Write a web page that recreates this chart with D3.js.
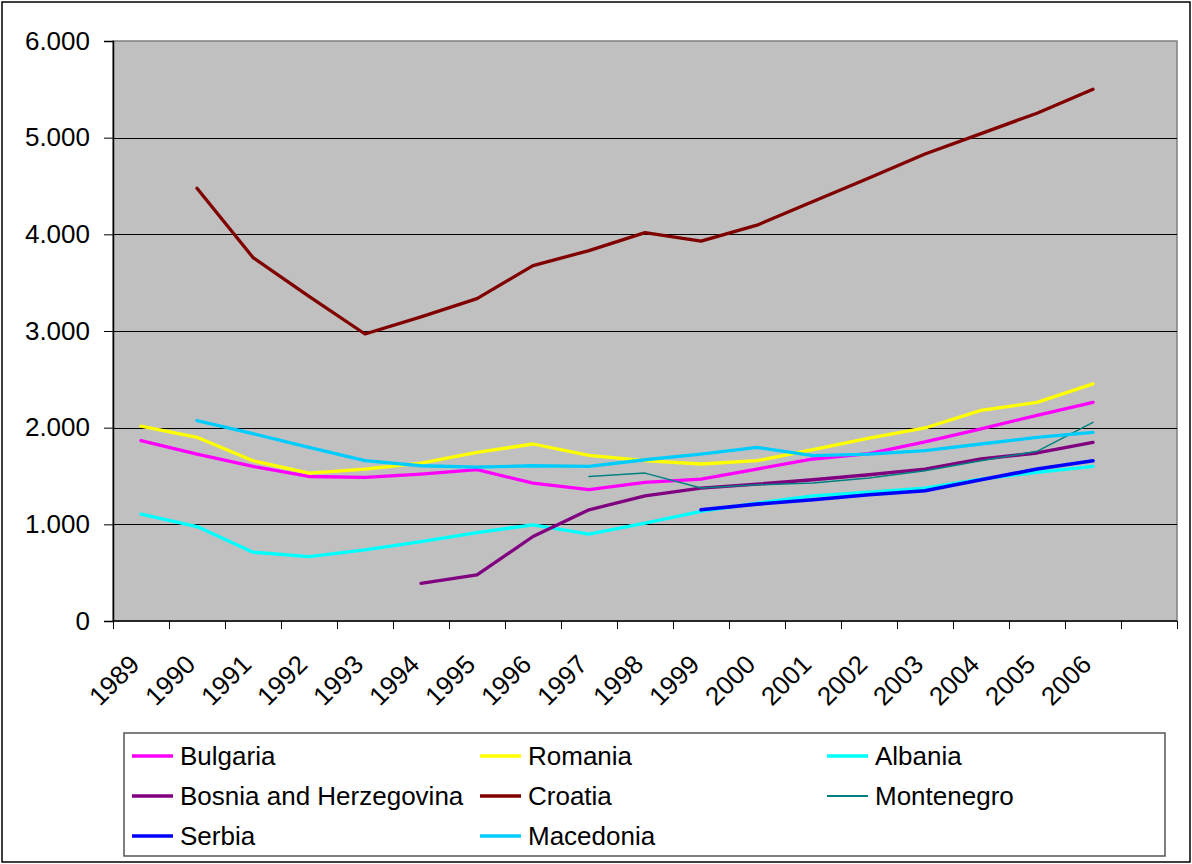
<!DOCTYPE html>
<html>
<head>
<meta charset="utf-8">
<script src="https://cdn.jsdelivr.net/npm/d3@7"></script>
<style>
  html, body { margin: 0; padding: 0; background: #fff; }
  svg { display: block; }
  text { font-family: Arial, "Liberation Sans", sans-serif; fill: #000; }
</style>
</head>
<body>
<svg id="chart" width="1192" height="864"></svg>
<script>
// ---- data ----
const years = ["1989","1990","1991","1992","1993","1994","1995","1996","1997","1998","1999","2000","2001","2002","2003","2004","2005","2006"];
const yTicks = [0, 1000, 2000, 3000, 4000, 5000, 6000];

const bulgaria   = [1865,1727,1599,1495,1485,1520,1565,1427,1358,1433,1468,1572,1676,1731,1852,1987,2128,2262];
const romania    = [2015,1900,1658,1530,1572,1634,1744,1831,1713,1658,1624,1658,1772,1893,1997,2179,2262,2453];
const albania    = [1106,977,712,666,736,822,915,995,898,1012,1133,1220,1295,1333,1375,1468,1537,1599];
const bosnia     = [null,null,null,null,null,390,477,874,1150,1295,1375,1416,1461,1513,1572,1676,1738,1848];
const croatia    = [null,4477,3760,3358,2969,3146,3335,3676,3832,4017,3929,4095,4340,4582,4831,5042,5253,5500];
const montenegro = [null,null,null,null,null,null,null,null,1495,1530,1375,1409,1427,1479,1554,1658,1755,2055];
const serbia     = [null,null,null,null,null,null,null,null,null,null,1150,1209,1254,1306,1347,1461,1572,1658];
const macedonia  = [null,2073,1938,1796,1658,1606,1592,1606,1599,1668,1727,1796,1710,1727,1762,1831,1900,1951];

const seriesNames  = ["Bulgaria","Romania","Albania","Bosnia and Herzegovina","Croatia","Montenegro","Serbia","Macedonia"];
const seriesValues = [bulgaria, romania, albania, bosnia, croatia, montenegro, serbia, macedonia];
const seriesColors = ["#FF00FF","#FFFF00","#00FFFF","#800080","#800000","#008080","#0000FF","#00CCFF"];
const seriesWidths = [3.3,3.3,3.3,3.3,3.3,1.5,3.6,3.3];

// ---- layout ----
const svg = d3.select("#chart");
const plot = { left: 113, right: 1177, top: 41, bottom: 621 };

// one empty trailing category as in the original
const domain = years.concat([""]);
const x = d3.scaleBand().domain(domain).range([plot.left, plot.right]).padding(0);
const y = d3.scaleLinear().domain([0, 6000]).range([plot.bottom, plot.top]);

// outer border
svg.append("rect").attr("x", 2).attr("y", 2).attr("width", 1188).attr("height", 860)
  .attr("fill", "#fff").attr("stroke", "#000").attr("stroke-width", 1.5);

// plot background
svg.append("rect").attr("x", plot.left).attr("y", plot.top)
  .attr("width", plot.right - plot.left).attr("height", plot.bottom - plot.top)
  .attr("fill", "#C0C0C0").attr("stroke", "#808080").attr("stroke-width", 1.5);

// gridlines
svg.append("g").selectAll("line").data(yTicks.filter(d => d > 0 && d < 6000)).join("line")
  .attr("x1", plot.left).attr("x2", plot.right)
  .attr("y1", d => Math.round(y(d)) + 0.5).attr("y2", d => Math.round(y(d)) + 0.5)
  .attr("stroke", "#000").attr("stroke-width", 1);

// y axis
const yAxis = d3.axisLeft(y).tickValues(yTicks).tickSize(9).tickPadding(14)
  .tickFormat(d => d === 0 ? "0" : d3.format(",")(d).replace(/,/g, "."));
const gy = svg.append("g").attr("transform", `translate(${plot.left},0)`).call(yAxis);
gy.select(".domain").attr("stroke", "#000").attr("stroke-width", 1.5);
gy.selectAll(".tick line").attr("stroke", "#000");
gy.selectAll(".tick text").style("font-size", "26px").attr("font-family", "Arial, 'Liberation Sans', sans-serif");

// x axis line
svg.append("line").attr("x1", plot.left).attr("x2", plot.right)
  .attr("y1", plot.bottom).attr("y2", plot.bottom).attr("stroke", "#000").attr("stroke-width", 1.5);

// x ticks at category boundaries
const bounds = domain.map(d => x(d)).concat([plot.right]);
svg.append("g").selectAll("line").data(bounds).join("line")
  .attr("x1", d => Math.round(d) + 0.5).attr("x2", d => Math.round(d) + 0.5)
  .attr("y1", plot.bottom).attr("y2", plot.bottom + 8)
  .attr("stroke", "#000").attr("stroke-width", 1);

// x labels, rotated
svg.append("g").selectAll("text").data(years).join("text")
  .attr("transform", d => `translate(${x(d) + x.bandwidth() / 2},${plot.bottom + 45}) rotate(-45)`)
  .attr("text-anchor", "end")
  .style("font-size", "26px")
  .text(d => d);

// series lines
const line = d3.line()
  .defined(d => d.v !== null)
  .x(d => x(d.year) + x.bandwidth() / 2)
  .y(d => y(d.v));

const gLines = svg.append("g");
seriesValues.forEach((vals, i) => {
  const pts = years.map((yr, j) => ({ year: yr, v: vals[j] }));
  gLines.append("path")
    .datum(pts)
    .attr("d", line)
    .attr("fill", "none")
    .attr("stroke", seriesColors[i])
    .attr("stroke-width", seriesWidths[i])
    .attr("stroke-linejoin", "round")
    .attr("stroke-linecap", "round");
});

// legend
const legend = { left: 124, top: 733, right: 1165, bottom: 856 };
svg.append("rect").attr("x", legend.left).attr("y", legend.top)
  .attr("width", legend.right - legend.left).attr("height", legend.bottom - legend.top)
  .attr("fill", "#fff").attr("stroke", "#555").attr("stroke-width", 1.5);

const colX = [132, 480, 827];
const rowY = [756, 796, 836];
const items = svg.append("g").selectAll("g").data(seriesNames).join("g")
  .attr("transform", (d, i) => `translate(${colX[i % 3]},${rowY[Math.floor(i / 3)]})`);
items.append("line").attr("x1", 0).attr("x2", 41).attr("y1", 0).attr("y2", 0)
  .attr("stroke", (d, i) => seriesColors[i])
  .attr("stroke-width", (d, i) => seriesWidths[i] === 1.5 ? 1.8 : 3.5);
items.append("text").attr("x", 48).attr("y", 0).attr("dy", "0.36em")
  .style("font-size", "26px")
  .text(d => d);
</script>
</body>
</html>
